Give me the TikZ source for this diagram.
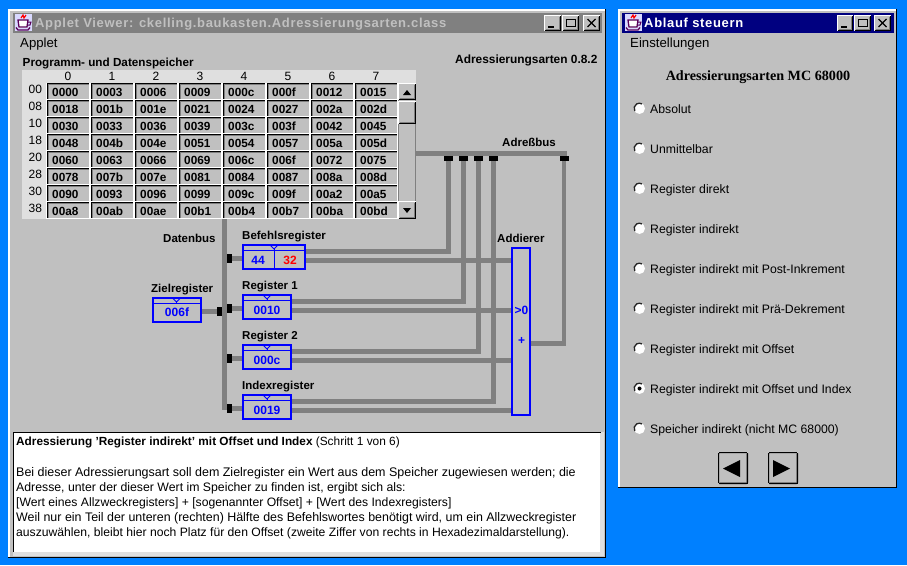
\documentclass[tikz,border=0pt]{standalone}
\usepackage{fontspec}
\setmainfont{Liberation Sans}
\newfontfamily\headfont{Liberation Serif}
\definecolor{desk}{HTML}{0080FF}
\definecolor{win}{HTML}{C0C0C0}
\definecolor{wire}{HTML}{808080}
\definecolor{head}{HTML}{DFDFDF}
\definecolor{regblue}{HTML}{0000FF}
\definecolor{navy}{HTML}{000080}
\newcommand{\fs}[1]{\fontsize{#1}{#1}\selectfont}
\newcommand{\raised}[4]{%
  \fill[win] (#1,#2) rectangle (#3,#4);
  \draw[white,line width=1pt] (#1+.5,#4-.5) -- (#1+.5,#2+.5) -- (#3-.5,#2+.5);
  \draw[black,line width=1pt] (#1+.5,#4-.5) -- (#3-.5,#4-.5) -- (#3-.5,#2+.5);
  \draw[wire,line width=1pt] (#1+1.5,#4-1.5) -- (#3-1.5,#4-1.5) -- (#3-1.5,#2+1.5);
}
\newcommand{\appicon}[2]{%
  \fill[white!85!blue] (#1,#2) rectangle (#1+17,#2+17);
  \draw[red,line width=1.2pt] (#1+6,#2+4) -- (#1+8,#2+1) -- (#1+9,#2+4) -- (#1+11,#2+1);
  \fill[white] (#1+3,#2+6) rectangle (#1+13,#2+14);
  \draw[violet!70!black,line width=1.3pt] (#1+3,#2+6) -- (#1+13,#2+6) -- (#1+12,#2+13) -- (#1+4,#2+13) -- cycle;
  \draw[violet!70!black,line width=1pt] (#1+13,#2+8) -- (#1+16,#2+8) -- (#1+15,#2+11) -- (#1+12.5,#2+11);
  \draw[violet!70!black,line width=1.3pt] (#1+1,#2+13.5) -- (#1+3,#2+16) -- (#1+13,#2+16) -- (#1+15,#2+13.5);
}
\tikzset{
  bus/.style={draw=wire,line width=4.8pt},
  tap/.style={fill=black,draw=none,minimum width=5pt,minimum height=9pt,inner sep=0pt,outer sep=0pt},
  atap/.style={fill=black,draw=none,minimum width=9pt,minimum height=5.5pt,inner sep=0pt,outer sep=0pt},
  reg/.style={draw=regblue,line width=2pt,fill=win,minimum height=24pt,inner sep=0pt,outer sep=0pt},
  lbl/.style={anchor=base west,inner sep=0pt,font=\bfseries\fs{11.5}},
  cellv/.style={anchor=base west,inner sep=0pt,font=\bfseries\fs{11.8}},
  hdr/.style={anchor=base,inner sep=0pt,font=\fs{12}},
  regv/.style={anchor=base,inner sep=0pt,font=\bfseries\fs{12},text=regblue},
  menulbl/.style={anchor=base west,inner sep=0pt,font=\fs{13.2}},
  radiol/.style={anchor=base west,inner sep=0pt,font=\fs{12.25}},
  body/.style={anchor=base west,inner sep=0pt},
  regmark/.style={draw=regblue,line width=.8pt}
}
\begin{document}
\begin{tikzpicture}[x=1pt,y=-1pt]
\useasboundingbox (0,0) rectangle (907,565);
\fill[desk] (0,0) rectangle (907,565);
% left window
\fill[win] (8,9) rectangle (606,558);
\draw[white,line width=2pt] (9,558) -- (9,10) -- (606,10);
\draw[black,line width=1.4pt] (8,557.3) -- (605.3,557.3) -- (605.3,9);
\fill[wire] (13,13) rectangle (602,32.5);
\appicon{15}{14}
\node[anchor=base west,inner sep=0pt,text=win,font=\bfseries\fs{13}\addfontfeatures{LetterSpace=5.2}] (title1) at (35,27.5) {Applet Viewer: ckelling.baukasten.Adressierungsarten.class};
\raised{544}{15}{561}{31}
\raised{562}{15}{579}{31}
\raised{583}{15}{600}{31}
\draw[black,line width=2pt] (548,26.5) -- (554,26.5);
\draw[black,line width=1pt] (566.5,19.5) rectangle (575.5,26.5);
\draw[black,line width=1.3pt] (587.5,19) -- (595.5,27) (595.5,19) -- (587.5,27);
\node[menulbl] (appletmenu) at (20,47) {Applet};
\node[lbl,font=\bfseries\fs{11.7}] (memlabel) at (22.5,66) {Programm- und Datenspeicher};
\node[lbl,font=\bfseries\fs{11.9}] (version) at (455,63) {Adressierungsarten 0.8.2};
% memory table
\node[draw=none,fill=head,inner sep=0pt,outer sep=0pt,minimum width=394pt,minimum height=149pt,anchor=north west] (mem) at (22,70) {};
\fill[win] (46,83) rectangle (416,219);
\foreach \c in {0,...,7} \node[hdr] (col\c) at (68+44*\c,80.5) {\c};
\foreach \lab/\vals [count=\r from 0] in {%
 00/{0000,0003,0006,0009,000c,000f,0012,0015},
 08/{0018,001b,001e,0021,0024,0027,002a,002d},
 10/{0030,0033,0036,0039,003c,003f,0042,0045},
 18/{0048,004b,004e,0051,0054,0057,005a,005d},
 20/{0060,0063,0066,0069,006c,006f,0072,0075},
 28/{0078,007b,007e,0081,0084,0087,008a,008d},
 30/{0090,0093,0096,0099,009c,009f,00a2,00a5},
 38/{00a8,00ab,00ae,00b1,00b4,00b7,00ba,00bd}}{%
  \node[hdr,anchor=base west] (row\r) at (28.5,93+17*\r) {\lab};
  \foreach \v [count=\c from 0] in \vals {%
    \pgfmathsetmacro{\xa}{46+44*\c}
    \pgfmathsetmacro{\ya}{83+17*\r}
    \fill[white] (\xa,\ya) rectangle (\xa+44,\ya+17);
    \fill[win] (\xa+.5,\ya) rectangle (\xa+43,\ya+16);
    \draw[black,line width=1pt] (\xa+1,\ya+16) -- (\xa+1,\ya+.5) -- (\xa+43,\ya+.5);
    \draw[wire,line width=1pt] (\xa+2,\ya+16) -- (\xa+2,\ya+1.5) -- (\xa+43,\ya+1.5);
    \node[cellv] (cell\r\c) at (\xa+6,\ya+13.5) {\v};
  }
}
% scrollbar
\fill[win] (398,83) rectangle (416,219);
\draw[wire,line width=1pt] (415.5,83) -- (415.5,219) (398.5,83) -- (398.5,219);
\raised{398}{83}{416}{100}
\raised{398}{101}{416}{124}
\raised{398}{201}{416}{219}
\fill[black] (403,95) -- (411,95) -- (407,90) -- cycle;
\fill[black] (403,208) -- (411,208) -- (407,213) -- cycle;
% registers
\node[reg,minimum width=62pt,anchor=north west] (befehl) at (243,245) {};
\node[reg,minimum width=48pt,anchor=north west] (reg1) at (243,295) {};
\node[reg,minimum width=48pt,anchor=north west] (reg2) at (243,345) {};
\node[reg,minimum width=48pt,anchor=north west] (idx) at (243,395) {};
\node[reg,minimum width=48pt,anchor=north west] (ziel) at (153,298) {};
\node[draw=regblue,line width=2pt,fill=win,minimum width=18pt,minimum height=167pt,inner sep=0pt,outer sep=0pt,anchor=north west] (adder) at (512,248) {};
% address bus taps
\coordinate (abusEnd) at (566.5,153.5);
\node[atap] (a1) at (448.5,158.3) {};
\node[atap] (a2) at (463.5,158.3) {};
\node[atap] (a3) at (478.5,158.3) {};
\node[atap] (a4) at (493.5,158.3) {};
\node[atap] (a5) at (564,158.3) {};
% data bus taps
\coordinate (dbusTop) at (224.5,219);
\coordinate (dbusEnd) at (224.5,410);
\node[tap] (d1) at (229.5,258.5) {};
\node[tap] (d2) at (229.5,308.5) {};
\node[tap] (d3) at (229.5,358.5) {};
\node[tap] (d4) at (229.5,408.5) {};
\node[tap] (d5) at (219.5,311.5) {};
% output ports
\coordinate (bU) at (306,251.3);
\coordinate (bL) at (306,260.3);
\coordinate (r1U) at (292,301.3);
\coordinate (r1L) at (292,310.3);
\coordinate (r2U) at (292,351.3);
\coordinate (r2L) at (292,360.3);
\coordinate (iU) at (292,401.3);
\coordinate (iL) at (292,410.3);
\coordinate (addOut) at (531,343.3);
% connectors
\draw[bus] (mem.east |- abusEnd) -- (abusEnd);
\draw[bus] (dbusTop) -- (dbusEnd);
\draw[bus] (bU) -| (a1.south);
\draw[bus] (r1U) -| (a2.south);
\draw[bus] (r2U) -| (a3.south);
\draw[bus] (iU) -| (a4.south);
\draw[bus] (bL) -- (bL -| adder.west);
\draw[bus] (r1L) -- (r1L -| adder.west);
\draw[bus] (r2L) -- (r2L -| adder.west);
\draw[bus] (iL) -- (iL -| adder.west);
\draw[bus,line join=miter] (addOut) -| (a5.south);
\draw[bus] (d1.center) -- (befehl.west |- d1);
\draw[bus] (d2.center) -- (reg1.west |- d2);
\draw[bus] (d3.center) -- (reg2.west |- d3);
\draw[bus] (d4.center) -- (idx.west |- d4);
\draw[bus] (ziel.east |- d5) -- (dbusTop |- d5);
% redraw on top of connectors
\foreach \n in {d1,d2,d3,d4,d5,a1,a2,a3,a4,a5}{\fill[black] (\n.north west) rectangle (\n.south east);}
\draw[regblue,line width=2pt] (adder.north west) rectangle (adder.south east);
\draw[regblue,line width=2pt] (befehl.north west) rectangle (befehl.south east);
\draw[regblue,line width=2pt] (reg1.north west) rectangle (reg1.south east);
\draw[regblue,line width=2pt] (reg2.north west) rectangle (reg2.south east);
\draw[regblue,line width=2pt] (idx.north west) rectangle (idx.south east);
\draw[regblue,line width=2pt] (ziel.north west) rectangle (ziel.south east);
% register details
\foreach \xa/\xb/\ya/\cx in {243/305/250.5/274, 243/291/300.5/267, 243/291/350.5/267, 243/291/400.5/267, 153/200/303.5/176.5}{%
  \draw[regmark] (\xa,\ya) -- (\xb,\ya);
  \draw[regmark] (\cx-3.5,\ya-5) -- (\cx+3.5,\ya-5) -- (\cx,\ya-1.5) -- cycle;
  \draw[regmark] (\cx,\ya-1.5) -- (\cx,\ya);
}
\draw[regblue,line width=1pt] (274.5,250.5) -- (274.5,269);
\node[regv] (v44) at (258,264.5) {44};
\node[regv,text=red] (v32) at (290,264.5) {32};
\node[regv] (v1) at (267,314) {0010};
\node[regv] (v2) at (267,364) {000c};
\node[regv] (v3) at (267,414) {0019};
\node[regv] (v4) at (177,316.5) {006f};
\node[regv] (vgt) at (521.5,314.5) {>0};
\node[regv] (vplus) at (521.5,344) {+};
\node[lbl] (lb1) at (242,239) {Befehlsregister};
\node[lbl] (lb2) at (242,289) {Register 1};
\node[lbl] (lb3) at (242,339) {Register 2};
\node[lbl] (lb4) at (242,389) {Indexregister};
\node[lbl] (lb5) at (151,292) {Zielregister};
\node[lbl] (lb6) at (163,242) {Datenbus};
\node[lbl] (lb7) at (497,242) {Addierer};
\node[lbl] (lb8) at (502,146) {Adreßbus};
% text area
\fill[head] (13,432) rectangle (604,555.5);
\fill[white] (14,433) rectangle (600,551.5);
\draw[black,line width=1.4pt] (13.7,552) -- (13.7,432.7) -- (601,432.7);
\node[body,font=\bfseries\fs{11.8}] (t0) at (16,445.5) {Adressierung 'Register indirekt' mit Offset und Index \fs{11.9}\mdseries (Schritt 1 von 6)};
\node[body,font=\fs{12.48}] (t1) at (16,476) {Bei dieser Adressierungsart soll dem Zielregister ein Wert aus dem Speicher zugewiesen werden; die};
\node[body,font=\fs{12.28}] (t2) at (16,491) {Adresse, unter der dieser Wert im Speicher zu finden ist, ergibt sich als:};
\node[body,font=\fs{12.18}] (t3) at (16,506) {[Wert eines Allzweckregisters] + [sogenannter Offset] + [Wert des Indexregisters]};
\node[body,font=\fs{12.43}] (t4) at (16,521) {Weil nur ein Teil der unteren (rechten) Hälfte des Befehlswortes benötigt wird, um ein Allzweckregister};
\node[body,font=\fs{12.16}] (t5) at (16,536) {auszuwählen, bleibt hier noch Platz für den Offset (zweite Ziffer von rechts in Hexadezimaldarstellung).};
% right window
\fill[win] (618,9) rectangle (897,488);
\draw[white,line width=2pt] (619,488) -- (619,10) -- (897,10);
\draw[black,line width=1.4pt] (618,487.3) -- (896.3,487.3) -- (896.3,9);
\fill[navy] (622,13) rectangle (894,32.5);
\appicon{625}{14}
\node[anchor=base west,inner sep=0pt,text=white,font=\bfseries\fs{13}\addfontfeatures{LetterSpace=5.2}] (title2) at (644,27.5) {Ablauf steuern};
\raised{837}{15}{853}{31}
\raised{854}{15}{871}{31}
\raised{874}{15}{891}{31}
\draw[black,line width=2pt] (841,26.5) -- (847,26.5);
\draw[black,line width=1pt] (858.5,19.5) rectangle (867.5,26.5);
\draw[black,line width=1.3pt] (878.5,19) -- (886.5,27) (886.5,19) -- (878.5,27);
\node[menulbl] (setmenu) at (630,47) {Einstellungen};
\node[anchor=base,inner sep=0pt,font=\headfont\bfseries\fs{14.15}] (heading) at (758,80.5) {Adressierungsarten MC 68000};
\foreach \t [count=\i from 0] in {Absolut,Unmittelbar,Register direkt,Register indirekt,Register indirekt mit Post-Inkrement,Register indirekt mit Prä-Dekrement,Register indirekt mit Offset,Register indirekt mit Offset und Index,Speicher indirekt (nicht MC 68000)}{%
  \pgfmathsetmacro{\yy}{108.5+40*\i}
  \fill[white] (639.5,\yy) circle (5.5pt);
  \draw[black!85,line width=1.3pt] (634.8,\yy+2.5) arc (210:60:5.2pt);
  \node[radiol] (opt\i) at (650,\yy+4.5) {\t};
}
\fill[black] (639.5,388.5) circle (2pt);
\raised{718}{452}{748}{484}
\raised{768}{452}{798}{484}
\draw[black,line width=1pt,rounded corners=1pt] (718.5,452.5) rectangle (747.5,483.5);
\draw[black,line width=1pt,rounded corners=1pt] (768.5,452.5) rectangle (797.5,483.5);
\fill[black] (740,460) -- (740,477) -- (723,468.5) -- cycle;
\fill[black] (773,460) -- (773,477) -- (790,468.5) -- cycle;
\end{tikzpicture}
\end{document}
